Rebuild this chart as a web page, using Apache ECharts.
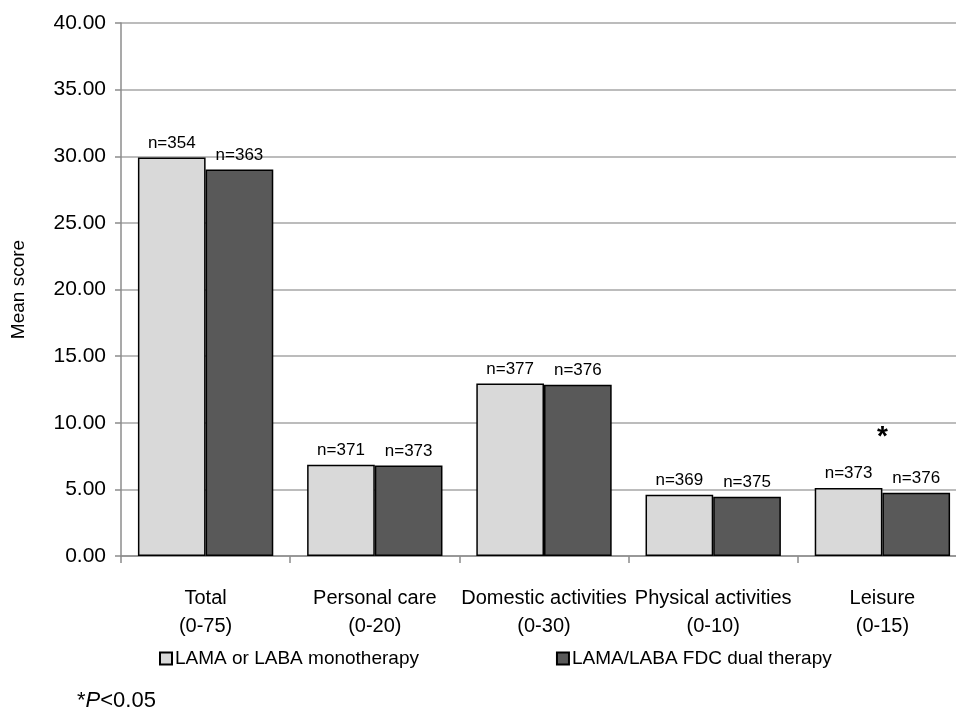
<!DOCTYPE html>
<html>
<head>
<meta charset="utf-8">
<script src="https://cdn.jsdelivr.net/npm/echarts@6/dist/echarts.min.js"></script>
<style>
  html, body { margin: 0; padding: 0; background: #fff; }
  #chart { width: 956px; height: 712px; }
</style>
</head>
<body>
<div id="chart"></div>
<script>
const categories = ["Total\n(0-75)", "Personal care\n(0-20)", "Domestic activities\n(0-30)", "Physical activities\n(0-10)", "Leisure\n(0-15)"];
const monoValues = [29.9, 6.85, 12.95, 4.6, 5.1];
const dualValues = [29.0, 6.8, 12.85, 4.45, 4.75];
const monoN = ["n=354", "n=371", "n=377", "n=369", "n=373"];
const dualN = ["n=363", "n=373", "n=376", "n=375", "n=376"];
const seriesNames = ["LAMA or LABA monotherapy", "LAMA/LABA FDC dual therapy"];
const yTicks = [0, 5, 10, 15, 20, 25, 30, 35, 40];

const font = "Liberation Sans, Arial, sans-serif";
const chart = echarts.init(document.getElementById("chart"), null, { renderer: "canvas" });

const barLabel = (texts) => ({
    show: true,
    position: "top",
    distance: 6,
    color: "#000",
    fontSize: 17,
    fontFamily: font,
    formatter: (p) => texts[p.dataIndex],
});

chart.setOption({
    animation: false,
    backgroundColor: "#fff",
    textStyle: { fontFamily: font },
    grid: { left: 121, right: -11, top: 23, bottom: 156, outerBoundsMode: "none", containLabel: false },
    legend: {
        data: seriesNames,
        left: 154,
        top: 644,
        itemWidth: 12,
        itemHeight: 12,
        itemGap: 137,
        icon: "rect",
        textStyle: { fontSize: 19, color: "#000", fontFamily: font, padding: [0, 0, 0, -2] },
    },
    xAxis: {
        type: "category",
        data: categories,
        axisLine: { lineStyle: { color: "#8c8c8c", width: 1.5 } },
        axisTick: { show: true, length: 7, lineStyle: { color: "#8c8c8c", width: 1.5 } },
        axisLabel: { color: "#000", fontSize: 20, fontFamily: font, margin: 28, lineHeight: 28, interval: 0 },
    },
    yAxis: {
        type: "value",
        min: yTicks[0],
        max: yTicks[yTicks.length - 1],
        interval: 5,
        name: "Mean score",
        nameLocation: "middle",
        nameRotate: 90,
        nameGap: 93,
        nameTextStyle: { color: "#000", fontSize: 19, fontFamily: font },
        axisLine: { show: true, lineStyle: { color: "#8c8c8c", width: 1.5 } },
        axisTick: { show: true, length: 6, lineStyle: { color: "#8c8c8c", width: 1.5 } },
        axisLabel: { color: "#000", fontSize: 21, fontFamily: font, margin: 15, formatter: (v) => v.toFixed(2) },
        splitLine: { show: true, lineStyle: { color: "#a6a6a6", width: 1.5 } },
    },
    series: [
        {
            name: seriesNames[0],
            type: "bar",
            data: monoValues,
            barGap: "0%",
            barCategoryGap: "20%",
            itemStyle: { color: "#d9d9d9", borderColor: "#000", borderWidth: 1.5 },
            label: barLabel(monoN),
        },
        {
            name: seriesNames[1],
            type: "bar",
            data: dualValues,
            barGap: "0%",
            barCategoryGap: "20%",
            itemStyle: { color: "#595959", borderColor: "#000", borderWidth: 1.5 },
            label: barLabel(dualN),
        },
    ],
});

// significance star above Leisure, and footnote
const starPos = chart.convertToPixel({ gridIndex: 0 }, [4, 8.9]);
chart.setOption({
    graphic: [
        {
            type: "text",
            x: starPos[0],
            y: starPos[1],
            style: { text: "*", font: "bold 28px " + font, fill: "#000", align: "center", verticalAlign: "middle" },
        },
        {
            type: "text",
            left: 77,
            top: 690,
            style: {
                text: "{a|*}{b|P}{a|<0.05}",
                rich: {
                    a: { fontSize: 22, fontFamily: font, fill: "#000" },
                    b: { fontSize: 22, fontFamily: font, fontStyle: "italic", fill: "#000" },
                },
            },
        },
    ],
});
</script>
</body>
</html>
